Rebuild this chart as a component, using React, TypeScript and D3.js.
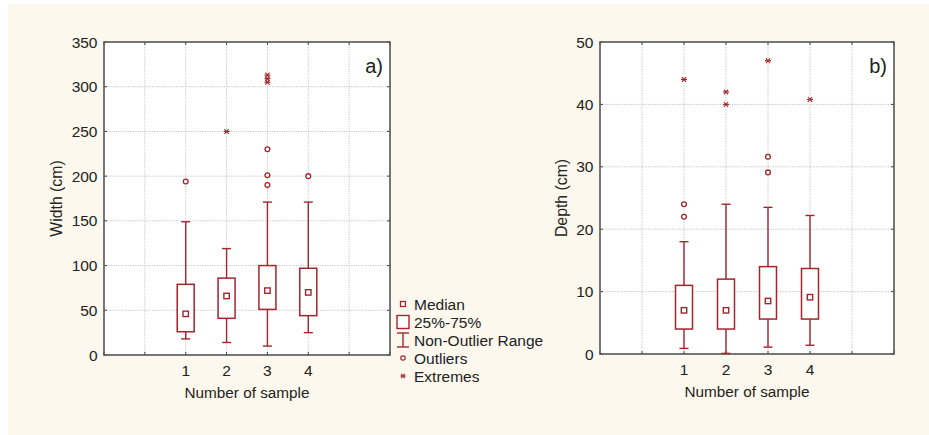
import React from 'react';
import * as d3 from 'd3';

const categories = ['1', '2', '3', '4'];

const widthQ1 = [26, 41, 51, 44];
const widthMedian = [46, 66, 72, 70];
const widthQ3 = [79, 86, 100, 97];
const widthMin = [18, 14, 10, 25];
const widthMax = [149, 119, 171, 171];
const widthOutliers = [[194], [], [230, 201, 190], [200]];
const widthExtremes = [[], [250], [313, 309, 305], []];

const depthQ1 = [4, 4, 5.6, 5.6];
const depthMedian = [7, 7, 8.5, 9.1];
const depthQ3 = [11, 12, 14, 13.7];
const depthMin = [0.9, 0.1, 1.1, 1.4];
const depthMax = [18, 24, 23.5, 22.2];
const depthOutliers = [[24, 22], [], [31.6, 29.1], []];
const depthExtremes = [[44], [42, 40], [47], [40.8]];

const widthTicks = [0, 50, 100, 150, 200, 250, 300, 350];
const depthTicks = [0, 10, 20, 30, 40, 50];
const legendLabels = ['Median', '25%-75%', 'Non-Outlier Range', 'Outliers', 'Extremes'];

const RED = '#a3262c';
const INK = '#222';
const FONT = '"Liberation Sans", Arial, sans-serif';

const Extreme = ({ cx, cy, s = 3 }) => (
  <g stroke={RED} strokeWidth={1.1}>
    <line x1={cx - s} x2={cx + s} y1={cy} y2={cy} />
    <line x1={cx - s * 0.7} x2={cx + s * 0.7} y1={cy - s * 0.8} y2={cy + s * 0.8} />
    <line x1={cx - s * 0.7} x2={cx + s * 0.7} y1={cy + s * 0.8} y2={cy - s * 0.8} />
  </g>
);

function Panel({ box, max, ticks, q1, med, q3, lo, hi, outliers, extremes, yTitle, titleOffset, tag }) {
  const { x0, x1, y0, y1 } = box;
  const x = d3.scaleLinear().domain([0, 7]).range([x0, x1]);
  const y = d3.scaleLinear().domain([0, max]).range([y1, y0]);
  const xGrid = d3.range(0, 8);
  const bw = 17,
    cap = 9;

  return (
    <g fontFamily={FONT}>
      <rect x={x0} y={y0} width={x1 - x0} height={y1 - y0} fill="#fff" />
      {xGrid.slice(1, -1).map((g) => (
        <line key={'gx' + g} x1={x(g)} x2={x(g)} y1={y0} y2={y1} stroke="#b5b5b5" strokeWidth={0.8} strokeDasharray="1.2,1.2" />
      ))}
      {ticks.slice(1, -1).map((t) => (
        <line key={'gy' + t} x1={x0} x2={x1} y1={y(t)} y2={y(t)} stroke="#b5b5b5" strokeWidth={0.8} strokeDasharray="1.2,1.2" />
      ))}
      {xGrid.map((g) => (
        <g key={'tx' + g} stroke="#444" strokeWidth={1}>
          <line x1={x(g)} x2={x(g)} y1={y0} y2={y0 + 3} />
          <line x1={x(g)} x2={x(g)} y1={y1} y2={y1 - 3} />
        </g>
      ))}
      {ticks.map((t) => (
        <g key={'ty' + t}>
          <line x1={x0} x2={x0 + 3} y1={y(t)} y2={y(t)} stroke="#444" />
          <line x1={x1} x2={x1 - 3} y1={y(t)} y2={y(t)} stroke="#444" />
          <text x={x0 - 6.5} y={y(t) + 5.5} textAnchor="end" fontSize={15.5} fill={INK}>
            {t}
          </text>
        </g>
      ))}
      <rect x={x0} y={y0} width={x1 - x0} height={y1 - y0} fill="none" stroke="#555" strokeWidth={1.6} />

      {categories.map((c, i) => {
        const cx = x(i + 2);
        return (
          <g key={c}>
            <line x1={cx} x2={cx} y1={y(hi[i])} y2={y(q3[i])} stroke={RED} strokeWidth={1.4} />
            <line x1={cx} x2={cx} y1={y(q1[i])} y2={y(lo[i])} stroke={RED} strokeWidth={1.4} />
            <line x1={cx - cap / 2} x2={cx + cap / 2} y1={y(hi[i])} y2={y(hi[i])} stroke={RED} strokeWidth={1.4} />
            <line x1={cx - cap / 2} x2={cx + cap / 2} y1={y(lo[i])} y2={y(lo[i])} stroke={RED} strokeWidth={1.4} />
            <rect x={cx - bw / 2} y={y(q3[i])} width={bw} height={y(q1[i]) - y(q3[i])} fill="#fff" stroke={RED} strokeWidth={1.5} />
            <rect x={cx - 2.7} y={y(med[i]) - 2.7} width={5.4} height={5.4} fill="#fff" stroke={RED} strokeWidth={1.4} />
            {outliers[i].map((v, k) => (
              <circle key={'o' + k} cx={cx} cy={y(v)} r={2.4} fill="#fff" stroke={RED} strokeWidth={1.3} />
            ))}
            {extremes[i].map((v, k) => (
              <Extreme key={'e' + k} cx={cx} cy={y(v)} />
            ))}
            <text x={cx} y={y1 + 21} textAnchor="middle" fontSize={15.5} fill={INK}>
              {c}
            </text>
          </g>
        );
      })}

      <text x={(x0 + x1) / 2} y={y1 + 43} textAnchor="middle" fontSize={15.3} fill={INK}>
        Number of sample
      </text>
      <text
        transform={`translate(${x0 - titleOffset},${(y0 + y1) / 2}) rotate(-90)`}
        textAnchor="middle"
        fontSize={15.8}
        fill={INK}
        dy="0.35em"
      >
        {yTitle}
      </text>
      <text x={x1 - 7} y={y0 + 31} textAnchor="end" fontSize={20} fill={INK}>
        {tag}
      </text>
    </g>
  );
}

function Legend({ lx, ly, step }) {
  return (
    <g fontFamily={FONT} fontSize={15.5} fill={INK}>
      {legendLabels.map((label, i) => {
        const cy = ly + i * step;
        return (
          <g key={label}>
            {i === 0 && <rect x={lx - 2.5} y={cy - 2.5} width={5} height={5} fill="#fff" stroke={RED} strokeWidth={1.3} />}
            {i === 1 && <rect x={lx - 6} y={cy - 6.5} width={12} height={13} fill="#fff" stroke={RED} strokeWidth={1.4} />}
            {i === 2 && (
              <g stroke={RED} strokeWidth={1.4}>
                <line x1={lx} x2={lx} y1={cy - 7} y2={cy + 7} />
                <line x1={lx - 6} x2={lx + 6} y1={cy - 7} y2={cy - 7} />
                <line x1={lx - 6} x2={lx + 6} y1={cy + 7} y2={cy + 7} />
              </g>
            )}
            {i === 3 && <circle cx={lx} cy={cy} r={2.2} fill="#fff" stroke={RED} strokeWidth={1.2} />}
            {i === 4 && <Extreme cx={lx} cy={cy} s={2.6} />}
            <text x={lx + 11} y={cy + 5.5}>
              {label}
            </text>
          </g>
        );
      })}
    </g>
  );
}

export default function App() {
  return (
    <div style={{ position: 'absolute', left: 0, top: 0, width: 929, height: 435, background: '#fff' }}>
      <svg width={929} height={435} viewBox="0 0 929 435" style={{ display: 'block' }}>
        <rect x={8} y={4} width={921} height={431} fill="#fdf8ed" />
        <Panel
          box={{ x0: 104, x1: 390, y0: 42, y1: 355 }}
          max={350}
          ticks={widthTicks}
          q1={widthQ1}
          med={widthMedian}
          q3={widthQ3}
          lo={widthMin}
          hi={widthMax}
          outliers={widthOutliers}
          extremes={widthExtremes}
          yTitle="Width (cm)"
          titleOffset={48}
          tag="a)"
        />
        <Legend lx={403} ly={304} step={18} />
        <Panel
          box={{ x0: 600, x1: 894, y0: 42, y1: 354 }}
          max={50}
          ticks={depthTicks}
          q1={depthQ1}
          med={depthMedian}
          q3={depthQ3}
          lo={depthMin}
          hi={depthMax}
          outliers={depthOutliers}
          extremes={depthExtremes}
          yTitle="Depth (cm)"
          titleOffset={39}
          tag="b)"
        />
      </svg>
    </div>
  );
}
